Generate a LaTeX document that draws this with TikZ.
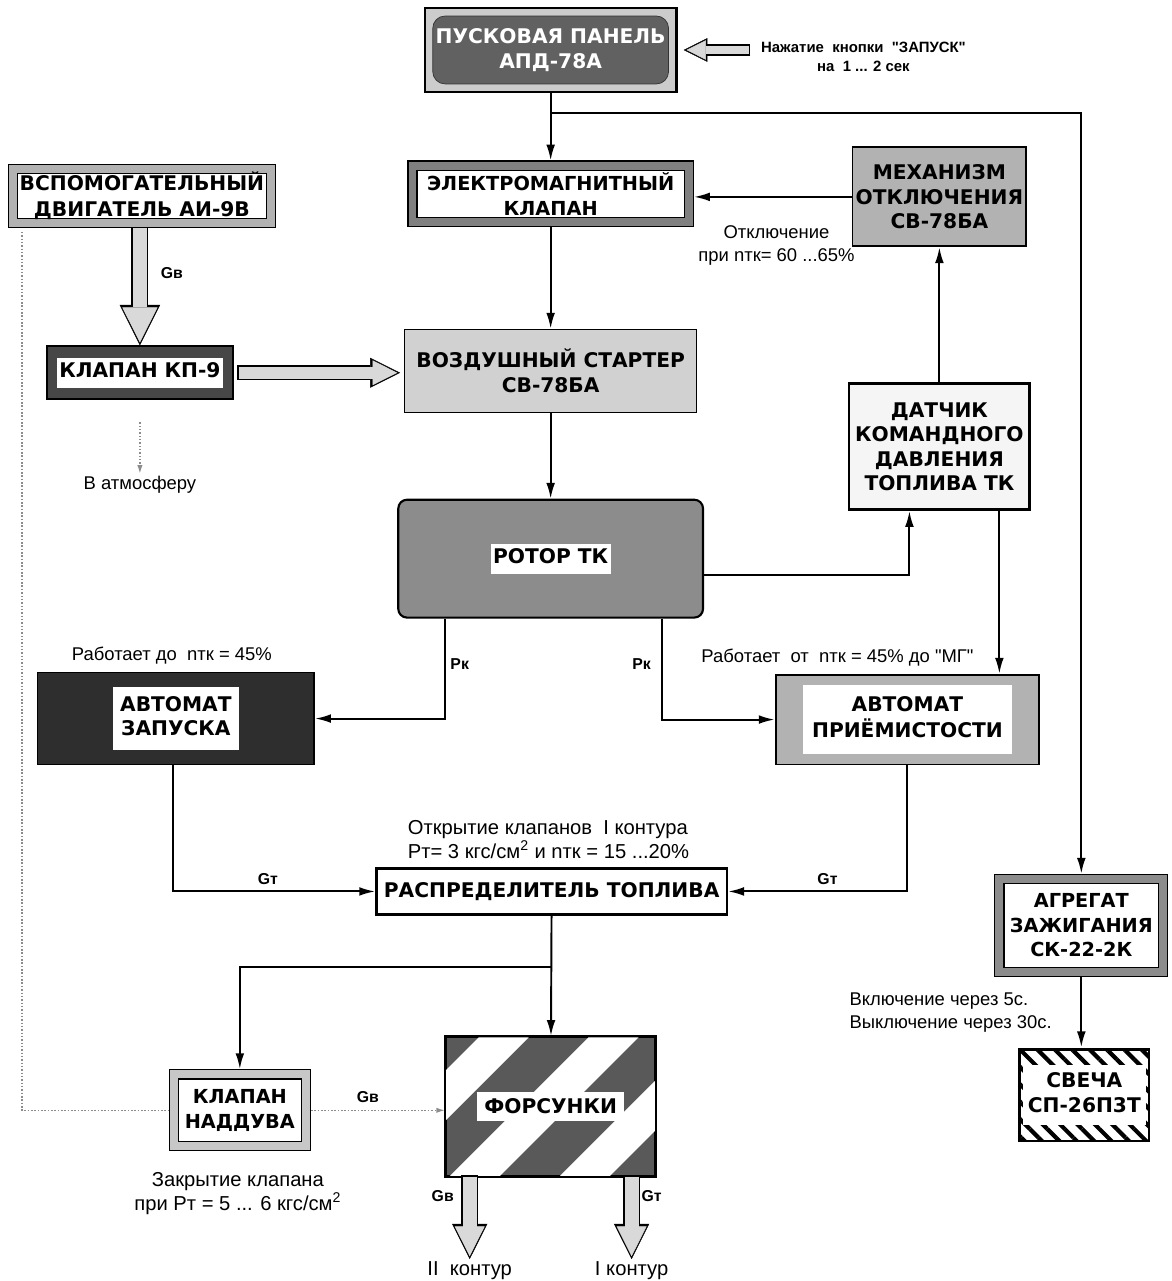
\documentclass[tikz,border=0pt]{standalone}
\usepackage{fontspec}
\setmainfont{Liberation Sans}
\newfontfamily\hvy{DejaVu Sans}
\usetikzlibrary{arrows.meta,calc,patterns.meta}
\newcommand{\wbox}[2][3pt]{{\setlength{\fboxsep}{#1}\colorbox{white}{\begin{tabular}{@{}c@{}}#2\end{tabular}}}}

\begin{document}
\begin{tikzpicture}[x=0.02cm,y=-0.02cm,
ttl/.style={font=\hvy\bfseries\fontsize{11.5}{14}\selectfont,align=center,inner sep=0pt},
band/.style={ttl,font=\hvy\bfseries\fontsize{11}{14}\selectfont,draw,fill=white,line width=.7pt,double=black!45,double distance=4.5pt,outer sep=3pt},
note/.style={font=\fontsize{10.5}{13}\selectfont,align=center,inner sep=1pt},
bignote/.style={note,font=\fontsize{11.5}{13.5}\selectfont},
lab/.style={font=\bfseries\fontsize{9}{10}\selectfont,inner sep=1pt},
arr/.style={line width=1.1pt,-{Latex[length=9pt,width=5pt]}},
dots/.style={black!45,densely dotted,line width=.9pt},
fat/.style n args={4}{draw=black!15,line width=#1,shorten >=1.6pt,-{Triangle[length=#3,width=#3,line width=.2pt]},
  preaction={draw=black,line width=#2,shorten >=0pt,shorten <=-.8pt,-{Triangle[length=#4,width=#4,line width=.2pt]}}}]
\fill[white] (0,0) rectangle (1172,1281);
\node[ttl,draw,line width=1.3pt,fill=black!20,minimum width=5.04cm,minimum height=1.68cm] (panel) at (551,50) {};
\node[ttl,draw=black!80,fill=black!62,rounded corners=7pt,text=white,minimum width=4.72cm,minimum height=1.36cm] (panelin) at (panel) {ПУСКОВАЯ ПАНЕЛЬ\\АПД-78А};
\node[note,font=\bfseries\fontsize{8.5}{11}\selectfont] (press) at (864,57) {Нажатие \ кнопки \ \textquotedbl ЗАПУСК\textquotedbl\\на \ 1 ... 2 сек};
\node[band,double=black!50,minimum width=5.53cm,minimum height=1.13cm] (emk) at (551,194) {ЭЛЕКТРОМАГНИТНЫЙ\\КЛАПАН};
\node[ttl,draw,line width=1.1pt,fill=black!30,minimum width=3.48cm,minimum height=1.98cm] (mech) at (940,197) {МЕХАНИЗМ\\ОТКЛЮЧЕНИЯ\\СВ-78БА};
\node[note] (off) at (777,246) {Отключение\\при nтк= 60 ...65\%};
\node[band,double=black!30,minimum width=5.16cm,minimum height=1.08cm,font=\hvy\bfseries\fontsize{11.5}{15}\selectfont] (aux) at (142,196) {ВСПОМОГАТЕЛЬНЫЙ\\ДВИГАТЕЛЬ АИ-9В};
\node[ttl,draw,line width=1.1pt,fill=black!72,minimum width=3.72cm,minimum height=1.06cm] (kp) at (140,373) {\wbox[1.5pt]{КЛАПАН КП-9}};
\node[note] (atm) at (140,485) {В атмосферу};
\node[ttl,draw,line width=.8pt,fill=black!18,minimum width=5.84cm,minimum height=1.66cm] (starter) at (551,371) {ВОЗДУШНЫЙ СТАРТЕР\\СВ-78БА};
\node[ttl,draw,line width=1.6pt,fill=black!4,minimum width=3.62cm,minimum height=2.52cm] (sensor) at (940,447) {ДАТЧИК\\КОМАНДНОГО\\ДАВЛЕНИЯ\\ТОПЛИВА ТК};
\node[ttl,draw,line width=1.2pt,fill=black!45,rounded corners=5pt,minimum width=6.1cm,minimum height=2.36cm] (rotor) at (551,559) {\wbox[1.5pt]{РОТОР ТК}};
\node[ttl,draw,line width=1pt,fill=black!82,minimum width=5.54cm,minimum height=1.84cm] (azap) at (176,719) {\wbox[4pt]{АВТОМАТ\\ЗАПУСКА}};
\node[note] (wz) at (172,656) {Работает до \ nтк = 45\%};
\node[ttl,draw,line width=1.1pt,fill=black!30,minimum width=5.28cm,minimum height=1.8cm] (apri) at (908,720) {\wbox[5pt]{АВТОМАТ\\ПРИЁМИСТОСТИ}};
\node[note] (wp) at (838,658) {Работает \ от \ nтк = 45\% до \textquotedbl МГ\textquotedbl};
\node[ttl,draw,line width=1.4pt,fill=white,minimum width=7.02cm,minimum height=.92cm] (distr) at (552,892) {РАСПРЕДЕЛИТЕЛЬ ТОПЛИВА};
\node[bignote,align=left,anchor=west] (open) at (406,840) {Открытие клапанов \ I контура\\Pт= 3 кгс/см\textsuperscript{2} и nтк = 15 ...20\%};
\node[band,double=black!22,minimum width=2.64cm,minimum height=1.44cm] (nadd) at (240,1111) {КЛАПАН\\НАДДУВА};
\node[bignote] (close) at (238,1194) {Закрытие клапана\\при Pт = 5 ... 6 кгс/см\textsuperscript{2}};
\node[ttl,draw,line width=1.2pt,fill=black!65,minimum width=4.18cm,minimum height=2.78cm] (fors) at (551,1107) {};
\begin{scope}
\clip (fors.south west) rectangle (fors.north east);
\foreach \s in {340,450,560}
  \fill[white] (\s,1177) -- ++(50,0) -- ++(139,-139) -- ++(-50,0) -- cycle;
\end{scope}
\draw[line width=1.2pt] (fors.south west) rectangle (fors.north east);
\node[ttl,fill=white,inner sep=4pt] (forslab) at (fors) {ФОРСУНКИ};
\node[bignote] (c2) at (470,1271) {II \ контур};
\node[bignote] (c1) at (632,1271) {I контур};
\node[band,double=black!45,minimum width=3.28cm,minimum height=1.86cm] (agr) at (1082,926) {АГРЕГАТ\\ЗАЖИГАНИЯ\\СК-22-2К};
\node[note,align=left,anchor=west] (ign) at (848,1013) {Включение через 5с.\\Выключение через 30с.};
\node[ttl,draw,line width=1.3pt,pattern={Lines[angle=-45,distance=7pt,line width=2.4pt]},minimum width=2.6cm,minimum height=1.84cm] (svecha) at (1085,1096) {\wbox[3pt]{СВЕЧА\\СП-26П3Т}};
\coordinate (tr1) at (551,113);
\coordinate (s2) at ($(sensor.south)+(60,0)$);
\coordinate (r1) at ($(rotor.south)+(-106,0)$);
\coordinate (r2) at ($(rotor.south)+(111,0)$);
\coordinate (a1) at ($(azap.south)+(-3,0)$);
\coordinate (br) at (551,968);
\coordinate (d1) at (22,232);
\draw[fat={5pt}{6.6pt}{11pt}{13.5pt}] ($(press.west |- panel)+(-10,0)$) -- ($(panel.east)+(6,0)$);
\draw[arr] (panel) -- (emk);
\draw[arr] (tr1) -| (agr);
\draw[arr] (mech.west) -- (mech.west -| emk.east);
\draw[fat={8pt}{9.6pt}{20pt}{23pt}] (aux.south -| kp) -- (kp.north);
\node[lab] (gv1) at (172,273) {Gв};
\draw[fat={7pt}{8.6pt}{14pt}{17pt}] ($(kp.east)+(5,0)$) -- ($(kp.east -| starter.west)+(-4,0)$);
\draw[dots,-{Latex[length=5pt,width=3pt]}] ($(kp.south)+(0,22)$) -- (atm.north);
\draw[arr] (emk) -- (starter);
\draw[arr] (starter) -- (rotor);
\draw[arr] (sensor) -- (mech);
\draw[arr] ($(rotor.east)+(0,16)$) -| ($(sensor.south)+(-30,0)$);
\draw[arr] (s2) -- (s2 |- apri.north);
\draw[arr] (r1) |- (azap);
\draw[arr] (r2) |- (apri);
\node[lab] (pk1) at (460,664) {Pк};
\node[lab] (pk2) at (642,664) {Pк};
\draw[arr] (a1) |- (distr);
\draw[arr] (apri) |- (distr);
\node[lab] (gt1) at (268,880) {Gт};
\node[lab] (gt2) at (828,880) {Gт};
\draw[arr] (distr) -- (fors);
\draw[arr] (br) -| (nadd);
\draw[dots] (d1) |- (nadd);
\draw[dots,-{Latex[length=5pt,width=3pt]}] (nadd.east) -- (nadd.east -| fors.west);
\node[lab] (gv2) at (368,1098) {Gв};
\draw[fat={8pt}{9.6pt}{17pt}{20pt}] (c2 |- fors.south) -- (c2.north);
\draw[fat={8pt}{9.6pt}{17pt}{20pt}] (c1 |- fors.south) -- (c1.north);
\node[lab] (gv3) at (443,1197) {Gв};
\node[lab] (gt3) at (652,1197) {Gт};
\draw[arr] (agr.south) -- (agr.south |- svecha.north);
\end{tikzpicture}
\end{document}
